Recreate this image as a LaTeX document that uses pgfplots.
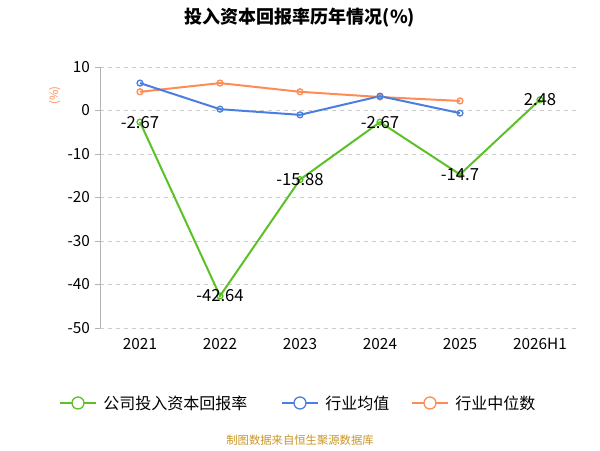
\documentclass[border=0pt]{standalone}
\usepackage{pgfplots}
\pgfplotsset{compat=1.18}
\usepackage{fontspec}
\setmainfont{Noto Sans CJK SC}
\definecolor{cg}{HTML}{5CC126}
\definecolor{cb}{HTML}{4A7FE0}
\definecolor{co}{HTML}{FF8C55}
\begin{document}
\begin{tikzpicture}
\path[use as bounding box] (0,0) rectangle (450pt,337.5pt);
\begin{axis}[at={(75pt,91.5pt)},anchor=south west,scale only axis,
 width=360pt,height=195.75pt,
 xmin=-0.5,xmax=5.5,ymin=-50,ymax=10,
 xtick={0,...,5},xticklabels={2021,2022,2023,2024,2025,2026H1},
 ytick={-50,-40,...,10},
 /pgf/number format/assume math mode=true,
 ticklabel style={font=\fontsize{11.5pt}{13pt}\selectfont},
 axis x line*=bottom, axis y line*=left,
 y axis line style={draw=gray!60},
 xtick style={draw=none}, ytick style={draw=gray!60},
 tick align=outside,major tick length=4pt,
 ymajorgrids, grid style={dashed,gray!40},
 x axis line style={draw=none},
 clip=false]
\addplot[co,line width=1.5pt,mark=o,mark size=2.2pt,mark options={fill=white,line width=1pt}] coordinates {(0,4.3)(1,6.3)(2,4.3)(3,3.1)(4,2.2)};
\addplot[cb,line width=1.5pt,mark=o,mark size=2.2pt,mark options={fill=white,line width=1pt}] coordinates {(0,6.3)(1,0.3)(2,-1.0)(3,3.3)(4,-0.6)};
\addplot[cg,line width=1.5pt,mark=o,mark size=2.2pt,mark options={fill=white,line width=1pt},
 nodes near coords,point meta=explicit symbolic,
 nodes near coords style={black,anchor=center,font=\fontsize{12.5pt}{14pt}\selectfont}] coordinates {(0,-2.67)[-2.67](1,-42.64)[-42.64](2,-15.88)[-15.88](3,-2.67)[-2.67](4,-14.7)[-14.7](5,2.48)[2.48]};
\end{axis}
\node[font=\bfseries\fontsize{13.5pt}{15pt}\selectfont] at (225pt,324pt) {投入资本回报率历年情况(\%)};
\node[co,rotate=90,font=\fontsize{8.5pt}{9pt}\selectfont] at (41pt,266pt) {(\%)};
\foreach \c/\x/\t in {cg/45/公司投入资本回报率,cb/211.5/行业均值,co/309/行业中位数}{
 \draw[\c,line width=1.5pt] (\x pt,35.25pt) -- ++(27pt,0);
 \draw[\c,line width=1pt,fill=white] (\x pt+13.5pt,35.25pt) circle (4.5pt);
 \node[anchor=west,font=\fontsize{12pt}{13pt}\selectfont] at (\x pt+29pt,35.25pt) {\t};
}
\node[font=\fontsize{8.5pt}{9pt}\selectfont,color={rgb,255:red,200;green,150;blue,40}] at (225pt,7.5pt) {制图数据来自恒生聚源数据库};
\end{tikzpicture}
\end{document}
